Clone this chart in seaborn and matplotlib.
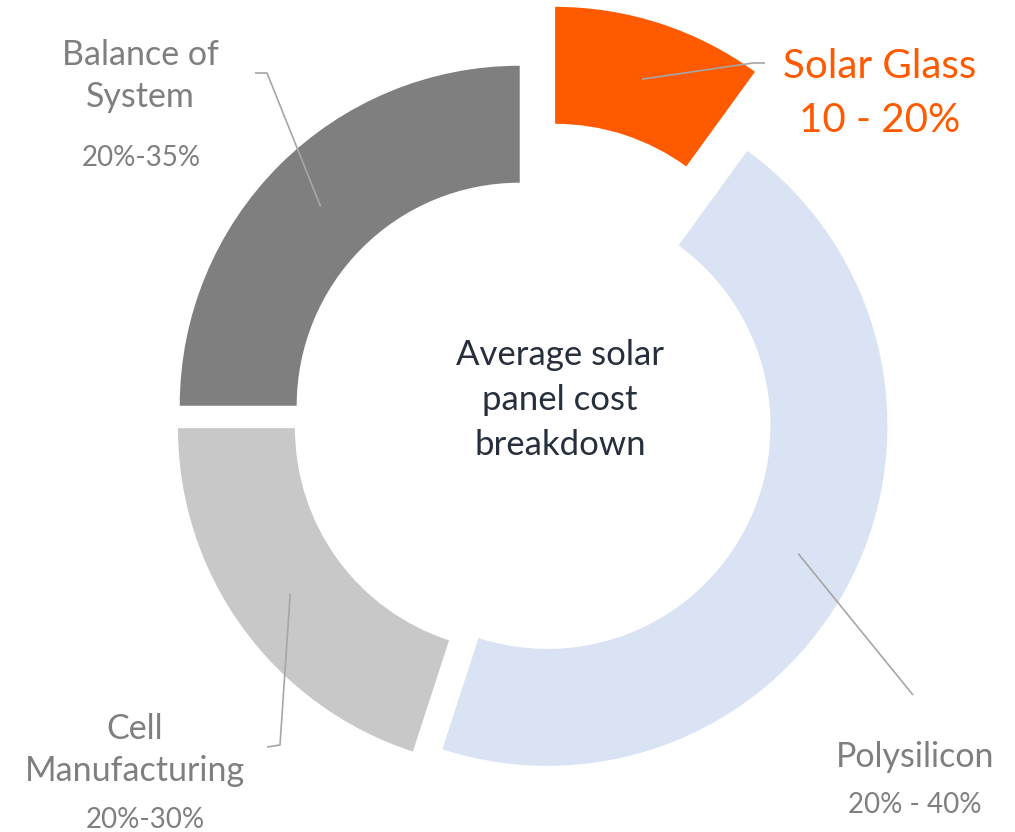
import numpy as np
import matplotlib
matplotlib.use("Agg")
import matplotlib.pyplot as plt
import seaborn as sns

# segment data, clockwise from 12 o'clock
segments = ["Solar Glass", "Polysilicon", "Cell Manufacturing", "Balance of System"]
shares = [10, 45, 20, 25]
label_names = ["Solar Glass", "Polysilicon", "Cell\nManufacturing", "Balance of\nSystem"]
label_ranges = ["10 - 20%", "20% - 40%", "20%-30%", "20%-35%"]
center_title = "Average solar\npanel cost\nbreakdown"

colors = ["#FF5A00", "#DAE3F3", "#C8C8C8", "#7F7F7F"]
explode = [0.22, 0.051, 0.051, 0.051]
LINE_COLOR = "#A6A6A6"
TEXT_GRAY = "#7F7F7F"

# pixel layout helpers (ring centre and pixels per data unit)
CX, CY, SCALE = 532, 418, 340
W, H = 1015, 832


def to_data(px, py):
    return ((px - CX) / SCALE, (CY - py) / SCALE)


sns.set_theme(style="white")
plt.rcParams["font.family"] = ["Lato", "DejaVu Sans"]

fig = plt.figure(figsize=(W / 100, H / 100), dpi=100)
ax = fig.add_axes([0, 0, 1, 1])

wedges, _ = ax.pie(shares, startangle=90, counterclock=False, colors=colors,
                   explode=explode, radius=1.0,
                   wedgeprops=dict(width=0.344, linewidth=0))

ax.set_xlim(-CX / SCALE, (W - CX) / SCALE)
ax.set_ylim(-(H - CY) / SCALE, CY / SCALE)
ax.set_aspect("equal")
ax.axis("off")

# leader line elbows/ends in pixels, one list per segment
leader_pts = [
    [(753, 63), (765, 63)],
    [(913, 695)],
    [(280, 745), (267, 747)],
    [(267, 73), (255, 73)],
]

for w, pts in zip(wedges, leader_pts):
    mid = np.deg2rad((w.theta1 + w.theta2) / 2)
    rm = w.r - w.width / 2
    x0 = w.center[0] + rm * np.cos(mid)
    y0 = w.center[1] + rm * np.sin(mid)
    xs = [x0] + [to_data(*p)[0] for p in pts]
    ys = [y0] + [to_data(*p)[1] for p in pts]
    ax.plot(xs, ys, color=LINE_COLOR, lw=1.2, solid_capstyle="butt", zorder=3)

# highlighted label
hl = dict(fontsize=29, color=colors[0])
x, y = to_data(880, 66)
ax.text(x, y, label_names[0], ha="center", va="center", **hl)
x, y = to_data(880, 121)
ax.text(x, y, label_ranges[0], ha="center", va="center", **hl)

name_pos = {1: (915, 757), 2: (135, 750), 3: (140, 76)}
range_pos = {1: (915, 805), 2: (145, 820), 3: (141, 158)}
for i in (1, 2, 3):
    x, y = to_data(*name_pos[i])
    ax.text(x, y, label_names[i], ha="center", va="center", fontsize=24.5,
            color=TEXT_GRAY, linespacing=1.4)
    x, y = to_data(*range_pos[i])
    ax.text(x, y, label_ranges[i], ha="center", va="center", fontsize=20,
            color=TEXT_GRAY)

x, y = to_data(560, 400)
ax.text(x, y, center_title, ha="center", va="center", fontsize=25,
        color="#262F3B", linespacing=1.5)

fig.savefig("out.png", dpi=100)
